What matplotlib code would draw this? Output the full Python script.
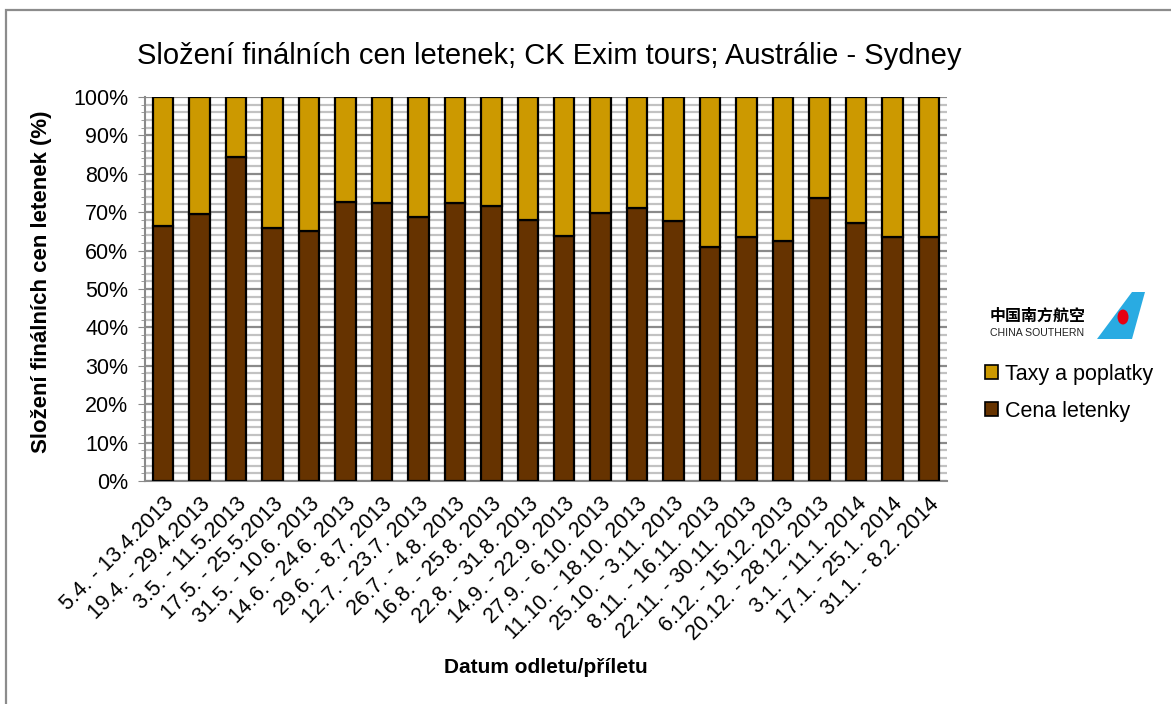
import matplotlib
matplotlib.use("Agg")
import matplotlib.pyplot as plt
from matplotlib.patches import Rectangle, Polygon, Ellipse
from matplotlib.ticker import MultipleLocator, PercentFormatter
import numpy as np

plt.rcParams["font.family"] = ["Liberation Sans", "DejaVu Sans"]

terminy = [
    "5.4. - 13.4.2013", "19.4. - 29.4.2013", "3.5. - 11.5.2013", "17.5. - 25.5.2013",
    "31.5. - 10.6. 2013", "14.6. - 24.6. 2013", "29.6. - 8.7. 2013", "12.7. - 23.7. 2013",
    "26.7. - 4.8. 2013", "16.8. - 25.8. 2013", "22.8. - 31.8. 2013", "14.9. - 22.9. 2013",
    "27.9. - 6.10. 2013", "11.10. - 18.10. 2013", "25.10. - 3.11. 2013", "8.11. - 16.11. 2013",
    "22.11. - 30.11. 2013", "6.12. - 15.12. 2013", "20.12. - 28.12. 2013", "3.1. - 11.1. 2014",
    "17.1. - 25.1. 2014", "31.1. - 8.2. 2014",
]
# podíl ceny letenky na finální ceně (%)
cena_letenky = [66.4, 69.5, 84.3, 65.9, 65.1, 72.6, 72.4, 68.7, 72.3, 71.6, 68.0,
                63.9, 69.9, 71.1, 67.6, 60.9, 63.5, 62.6, 73.8, 67.1, 63.5, 63.5]
taxy = [100 - c for c in cena_letenky]

HNEDA = "#663300"
ZLATA = "#CC9900"
SEDA = "#8a8a8a"

fig = plt.figure(figsize=(11.71, 7.04), dpi=100)
ax = fig.add_axes([0.1238, 0.3168, 0.6849, 0.5455])

x = np.arange(len(terminy))
w = 0.56
b1 = ax.bar(x, cena_letenky, w, color=HNEDA, edgecolor="black", linewidth=1.6, zorder=3,
            label="Cena letenky")
b2 = ax.bar(x, taxy, w, bottom=cena_letenky, color=ZLATA, edgecolor="black", linewidth=1.6,
            zorder=3, label="Taxy a poplatky")

ax.set_xlim(-0.5, len(terminy) - 0.5)
ax.set_ylim(0, 100)
ax.yaxis.set_major_locator(MultipleLocator(10))
ax.yaxis.set_minor_locator(MultipleLocator(2))
ax.yaxis.set_major_formatter(PercentFormatter(decimals=0))
ax.grid(axis="y", which="minor", color="#c2c2c2", linewidth=1.6, zorder=0)
ax.grid(axis="y", which="major", color=SEDA, linewidth=1.6, zorder=1)

for s in ["top", "right"]:
    ax.spines[s].set_visible(False)
for s in ["left", "bottom"]:
    ax.spines[s].set_color(SEDA)
    ax.spines[s].set_linewidth(1.5)

ax.tick_params(axis="y", which="major", length=5, color=SEDA, labelsize=15.5, pad=7)
ax.tick_params(axis="y", which="minor", length=3, color=SEDA)
ax.tick_params(axis="x", length=0, pad=9)
ax.set_xticks(x)
ax.set_xticklabels(terminy, rotation=45, ha="right", rotation_mode="anchor", fontsize=15.5)

ax.set_ylabel("Složení finálních cen letenek (%)", fontsize=16, fontweight="bold")
ax.yaxis.set_label_coords(-0.116, 0.52)
fig.text(0.466, 0.052, "Datum odletu/příletu", ha="center", va="center",
         fontsize=15, fontweight="bold")
fig.text(0.469, 0.921, "Složení finálních cen letenek; CK Exim tours; Austrálie - Sydney",
         ha="center", va="center", fontsize=21)

# legenda vpravo
leg = fig.legend(handles=[b2, b1], loc="upper left", bbox_to_anchor=(0.825, 0.511),
                 frameon=False, fontsize=15.5, handlelength=0.6, handleheight=0.6,
                 handletextpad=0.3, labelspacing=0.75)
for h in leg.legend_handles:
    h.set_linewidth(1.2)

# logo aerolinky
fig.text(0.8455, 0.552, "中国南方航空", family=["Noto Sans CJK SC", "DejaVu Sans"],
         fontsize=11.5, fontweight="bold", ha="left", va="center")
fig.text(0.8455, 0.527, "CHINA SOUTHERN", fontsize=7.6, ha="left", va="center",
         color="#222222")
fig.add_artist(Polygon([(1097 / 1171, 1 - 339 / 704), (1132 / 1171, 1 - 292 / 704),
                        (1145 / 1171, 1 - 292 / 704), (1132 / 1171, 1 - 339 / 704)],
                       closed=True, transform=fig.transFigure, facecolor="#29abe2",
                       edgecolor="none"))
fig.add_artist(Ellipse((1123 / 1171, 1 - 317 / 704), 11 / 1171, 15 / 704,
                       transform=fig.transFigure, facecolor="#e60012", edgecolor="none"))

# rámeček grafu
fig.add_artist(Rectangle((6 / 1171, -0.05), 1.2, 1 - 10 / 704 + 0.05, transform=fig.transFigure,
                         fill=False, edgecolor="#8c8c8c", linewidth=1.6))

fig.savefig("out.png", dpi=100)
